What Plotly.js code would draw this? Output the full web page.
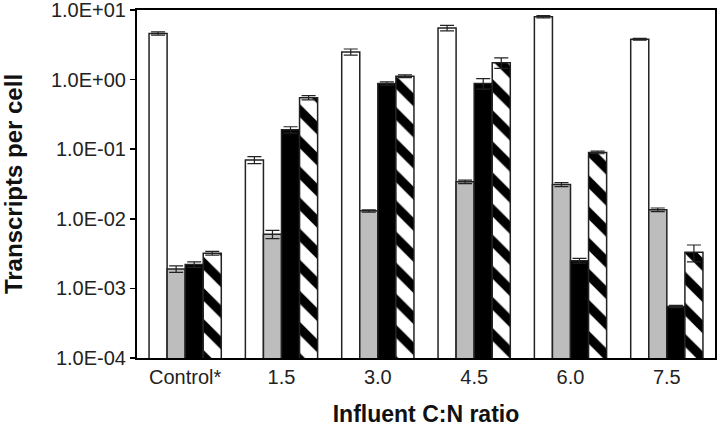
<!DOCTYPE html>
<html>
<head>
<meta charset="utf-8">
<script src="https://cdn.plot.ly/plotly-3.0.1.min.js"></script>
<style>html,body{margin:0;padding:0;background:#fff;}#chart{width:720px;height:428px;}</style>
</head>
<body>
<div id="chart"></div>
<script>
var categories = ["Control*", "1.5", "3.0", "4.5", "6.0", "7.5"];
var whiteVals = [4.6, 0.070, 2.5, 5.5, 8.0, 3.8];
var whiteErr = [0.25, 0.008, 0.25, 0.5, 0.3, 0.1];
var grayVals = [0.0019, 0.0060, 0.0130, 0.034, 0.031, 0.0135];
var grayErr = [0.0002, 0.0008, 0.0005, 0.002, 0.002, 0.0008];
var blackVals = [0.0022, 0.19, 0.88, 0.88, 0.0025, 0.00055];
var blackErr = [0.0002, 0.02, 0.05, 0.15, 0.0002, 0.00002];
var hatchVals = [0.0032, 0.55, 1.12, 1.75, 0.090, 0.0033];
var hatchErr = [0.0002, 0.04, 0.05, 0.3, 0.004, 0.0009];
var yTickVals = [1e-4, 1e-3, 1e-2, 1e-1, 1, 10];
var yTickText = ["1.0E-04", "1.0E-03", "1.0E-02", "1.0E-01", "1.0E+00", "1.0E+01"];

function errObj(arr) {
  return {type: "data", array: arr, visible: true, color: "#222", thickness: 1.2, width: 7};
}
var lineStyle = {color: "#222", width: 1.5};
var traces = [
  {type: "bar", x: categories, y: whiteVals, error_y: errObj(whiteErr),
   marker: {color: "#ffffff", line: lineStyle}},
  {type: "bar", x: categories, y: grayVals, error_y: errObj(grayErr),
   marker: {color: "#bdbdbd", line: lineStyle}},
  {type: "bar", x: categories, y: blackVals, error_y: errObj(blackErr),
   marker: {color: "#000000", line: lineStyle}},
  {type: "bar", x: categories, y: hatchVals, error_y: errObj(hatchErr),
   marker: {color: "#ffffff", line: lineStyle,
     pattern: {shape: "\\", fgcolor: "#000000", bgcolor: "#ffffff", size: 22, solidity: 0.42}}}
];
var layout = {
  width: 720, height: 428,
  margin: {l: 137, r: 5, t: 10, b: 70},
  paper_bgcolor: "#ffffff", plot_bgcolor: "#ffffff",
  barmode: "group", bargap: 0.25, bargroupgap: 0,
  showlegend: false,
  font: {family: "Liberation Sans, Arial, sans-serif", color: "#111"},
  xaxis: {
    type: "category",
    showline: true, linecolor: "#000", linewidth: 2, mirror: true,
    ticks: "", showgrid: false,
    tickfont: {size: 20, color: "#222"},
    title: {text: "Influent C:N ratio", font: {size: 23, color: "#111", family: "Liberation Sans, Arial, sans-serif", weight: "bold"}, standoff: 19}
  },
  yaxis: {
    type: "log", range: [-4, 1],
    tickvals: yTickVals, ticktext: yTickText,
    ticklabeloverflow: "allow",
    showline: true, linecolor: "#000", linewidth: 2, mirror: true,
    ticks: "outside", ticklen: 5, tickwidth: 1.5, tickcolor: "#000",
    showgrid: false, zeroline: false,
    tickfont: {size: 20, color: "#222"},
    title: {text: "Transcripts per cell", font: {size: 24, color: "#111", family: "Liberation Sans, Arial, sans-serif", weight: "bold"}, standoff: 30}
  }
};
Plotly.newPlot("chart", traces, layout, {displayModeBar: false, staticPlot: true});
</script>
</body>
</html>
